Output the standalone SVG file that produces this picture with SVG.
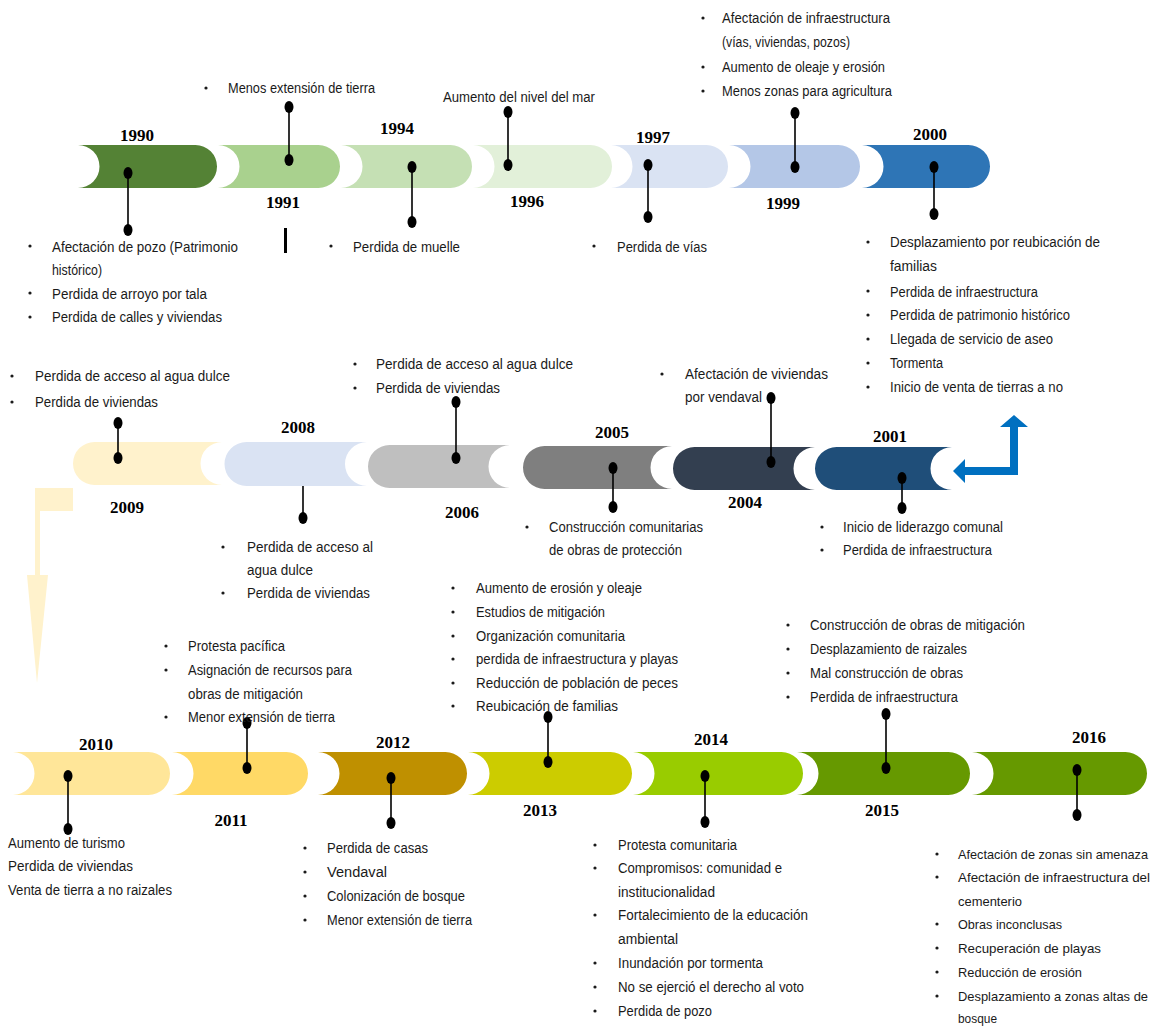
<svg xmlns="http://www.w3.org/2000/svg" width="1165" height="1027" viewBox="0 0 1165 1027">
<defs>
<style>
.t{font-family:"Liberation Sans","DejaVu Sans",sans-serif;font-size:14px;fill:#1a1a1a}
.s{font-size:13px}
.y{font-family:"Liberation Serif","DejaVu Serif",serif;font-size:17px;font-weight:bold;fill:#000;text-anchor:middle}
.b{fill:#1a1a1a}
.pl{stroke:#000;stroke-width:1.6;fill:none}
.d{fill:#000}
</style>
</defs>
<rect width="1165" height="1027" fill="#fff"/>

<g id="connectors">
<polygon points="35,488 73,488 73,511 40,511 40,575 48,575 37,683 27,575 35,575" fill="#FFF2CC"/>
<polygon points="953,471 965,459 965,467 1010,467 1010,427 1000,427 1014,415 1028,427 1018,427 1018,475 965,475 965,483" fill="#0070C0"/>
<rect x="284" y="228" width="3" height="25" fill="#000"/>
</g>

<!-- Row 1 -->
<g id="y1990">
<path d="M78,145 L195.5,145 A21.5,21.5 0 0 1 195.5,188 L78,188 A21.5,21.5 0 0 0 78,145 Z" fill="#548235"/>
<text class="y" x="137" y="141">1990</text>
<line class="pl" x1="128" y1="173" x2="128" y2="230"/><ellipse class="d" cx="128" cy="173" rx="4.5" ry="6"/><ellipse class="d" cx="128" cy="230" rx="4.5" ry="6"/>
<circle class="b" cx="30" cy="246" r="1.6"/><text class="t" x="52" y="252" textLength="186" lengthAdjust="spacingAndGlyphs">Afectación de pozo (Patrimonio</text>
<text class="t" x="52" y="275" textLength="50" lengthAdjust="spacingAndGlyphs">histórico)</text>
<circle class="b" cx="30" cy="293" r="1.6"/><text class="t" x="52" y="299" textLength="155" lengthAdjust="spacingAndGlyphs">Perdida de arroyo por tala</text>
<circle class="b" cx="30" cy="317" r="1.6"/><text class="t" x="52" y="322" textLength="170" lengthAdjust="spacingAndGlyphs">Perdida de calles y viviendas</text>
</g>
<g id="y1991">
<path d="M218,145 L318.5,145 A21.5,21.5 0 0 1 318.5,188 L218,188 A21.5,21.5 0 0 0 218,145 Z" fill="#A9D18E"/>
<text class="y" x="283" y="208">1991</text>
<line class="pl" x1="289" y1="107" x2="289" y2="160"/><ellipse class="d" cx="289" cy="107" rx="4.5" ry="6"/><ellipse class="d" cx="289" cy="160" rx="4.5" ry="6"/>
<circle class="b" cx="206" cy="88" r="1.6"/><text class="t" x="228" y="93" textLength="147" lengthAdjust="spacingAndGlyphs">Menos extensión de tierra</text>
</g>
<g id="y1994">
<path d="M341,145 L450.5,145 A21.5,21.5 0 0 1 450.5,188 L341,188 A21.5,21.5 0 0 0 341,145 Z" fill="#C5E0B4"/>
<text class="y" x="397" y="134">1994</text>
<line class="pl" x1="412" y1="167" x2="412" y2="222"/><ellipse class="d" cx="412" cy="167" rx="4.5" ry="6"/><ellipse class="d" cx="412" cy="222" rx="4.5" ry="6"/>
<circle class="b" cx="331" cy="246" r="1.6"/><text class="t" x="353" y="252" textLength="107" lengthAdjust="spacingAndGlyphs">Perdida de muelle</text>
</g>
<g id="y1996">
<path d="M473,145 L590.5,145 A21.5,21.5 0 0 1 590.5,188 L473,188 A21.5,21.5 0 0 0 473,145 Z" fill="#E2F0D9"/>
<text class="y" x="527" y="207">1996</text>
<line class="pl" x1="508" y1="112" x2="508" y2="165"/><ellipse class="d" cx="508" cy="112" rx="4.5" ry="6"/><ellipse class="d" cx="508" cy="165" rx="4.5" ry="6"/>
<text class="t" x="443" y="102" textLength="152" lengthAdjust="spacingAndGlyphs">Aumento del nivel del mar</text>
</g>
<g id="y1997">
<path d="M611,145 L706.5,145 A21.5,21.5 0 0 1 706.5,188 L611,188 A21.5,21.5 0 0 0 611,145 Z" fill="#DAE3F3"/>
<text class="y" x="653" y="143">1997</text>
<line class="pl" x1="648" y1="165" x2="648" y2="217"/><ellipse class="d" cx="648" cy="165" rx="4.5" ry="6"/><ellipse class="d" cx="648" cy="217" rx="4.5" ry="6"/>
<circle class="b" cx="594" cy="246" r="1.6"/><text class="t" x="617" y="252" textLength="90" lengthAdjust="spacingAndGlyphs">Perdida de vías</text>
</g>
<g id="y1999">
<path d="M729,145 L838.5,145 A21.5,21.5 0 0 1 838.5,188 L729,188 A21.5,21.5 0 0 0 729,145 Z" fill="#B4C7E7"/>
<text class="y" x="783" y="209">1999</text>
<line class="pl" x1="795" y1="113" x2="795" y2="167"/><ellipse class="d" cx="795" cy="113" rx="4.5" ry="6"/><ellipse class="d" cx="795" cy="167" rx="4.5" ry="6"/>
<circle class="b" cx="703" cy="18" r="1.6"/><text class="t" x="722" y="23" textLength="168" lengthAdjust="spacingAndGlyphs">Afectación de infraestructura</text>
<text class="t" x="722" y="47" textLength="128" lengthAdjust="spacingAndGlyphs">(vías, viviendas, pozos)</text>
<circle class="b" cx="703" cy="67" r="1.6"/><text class="t" x="722" y="72" textLength="163" lengthAdjust="spacingAndGlyphs">Aumento de oleaje y erosión</text>
<circle class="b" cx="703" cy="91" r="1.6"/><text class="t" x="722" y="96" textLength="170" lengthAdjust="spacingAndGlyphs">Menos zonas para agricultura</text>
</g>
<g id="y2000">
<path d="M862,145 L968.5,145 A21.5,21.5 0 0 1 968.5,188 L862,188 A21.5,21.5 0 0 0 862,145 Z" fill="#2E75B6"/>
<text class="y" x="930" y="140">2000</text>
<line class="pl" x1="934" y1="167" x2="934" y2="214"/><ellipse class="d" cx="934" cy="167" rx="4.5" ry="6"/><ellipse class="d" cx="934" cy="214" rx="4.5" ry="6"/>
<circle class="b" cx="868" cy="242" r="1.6"/><text class="t" x="890" y="247" textLength="210" lengthAdjust="spacingAndGlyphs">Desplazamiento por reubicación de</text>
<text class="t" x="890" y="271" textLength="47" lengthAdjust="spacingAndGlyphs">familias</text>
<circle class="b" cx="868" cy="291" r="1.6"/><text class="t" x="890" y="297" textLength="148" lengthAdjust="spacingAndGlyphs">Perdida de infraestructura</text>
<circle class="b" cx="868" cy="315" r="1.6"/><text class="t" x="890" y="320" textLength="180" lengthAdjust="spacingAndGlyphs">Perdida de patrimonio histórico</text>
<circle class="b" cx="868" cy="339" r="1.6"/><text class="t" x="890" y="344" textLength="163" lengthAdjust="spacingAndGlyphs">Llegada de servicio de aseo</text>
<circle class="b" cx="868" cy="363" r="1.6"/><text class="t" x="890" y="368" textLength="53" lengthAdjust="spacingAndGlyphs">Tormenta</text>
<circle class="b" cx="868" cy="387" r="1.6"/><text class="t" x="890" y="392" textLength="173" lengthAdjust="spacingAndGlyphs">Inicio de venta de tierras a no</text>
</g>

<!-- Row 2 -->
<g id="y2001">
<path d="M836.5,447 L952,447 A21.5,21.5 0 0 0 952,490 L836.5,490 A21.5,21.5 0 0 1 836.5,447 Z" fill="#1F4E79"/>
<text class="y" x="890" y="442">2001</text>
<line class="pl" x1="902" y1="478" x2="902" y2="508"/><ellipse class="d" cx="902" cy="478" rx="4.5" ry="6"/><ellipse class="d" cx="902" cy="508" rx="4.5" ry="6"/>
<circle class="b" cx="822" cy="527" r="1.6"/><text class="t" x="843" y="532" textLength="160" lengthAdjust="spacingAndGlyphs">Inicio de liderazgo comunal</text>
<circle class="b" cx="822" cy="550" r="1.6"/><text class="t" x="843" y="555" textLength="149" lengthAdjust="spacingAndGlyphs">Perdida de infraestructura</text>
</g>
<g id="y2004">
<path d="M694.5,447 L815,447 A21.5,21.5 0 0 0 815,490 L694.5,490 A21.5,21.5 0 0 1 694.5,447 Z" fill="#333F50"/>
<text class="y" x="745" y="508">2004</text>
<line class="pl" x1="771" y1="398" x2="771" y2="462"/><ellipse class="d" cx="771" cy="398" rx="4.5" ry="6"/><ellipse class="d" cx="771" cy="462" rx="4.5" ry="6"/>
<circle class="b" cx="662" cy="374" r="1.6"/><text class="t" x="685" y="379" textLength="143" lengthAdjust="spacingAndGlyphs">Afectación de viviendas</text>
<text class="t" x="685" y="402" textLength="77" lengthAdjust="spacingAndGlyphs">por vendaval</text>
</g>
<g id="y2005">
<path d="M544.5,446 L672,446 A21.5,21.5 0 0 0 672,489 L544.5,489 A21.5,21.5 0 0 1 544.5,446 Z" fill="#7F7F7F"/>
<text class="y" x="612" y="438">2005</text>
<line class="pl" x1="613" y1="468" x2="613" y2="507"/><ellipse class="d" cx="613" cy="468" rx="4.5" ry="6"/><ellipse class="d" cx="613" cy="507" rx="4.5" ry="6"/>
<circle class="b" cx="527" cy="527" r="1.6"/><text class="t" x="549" y="532" textLength="154" lengthAdjust="spacingAndGlyphs">Construcción comunitarias</text>
<text class="t" x="549" y="555" textLength="133" lengthAdjust="spacingAndGlyphs">de obras de protección</text>
</g>
<g id="y2006">
<path d="M389.5,445 L510,445 A21.5,21.5 0 0 0 510,488 L389.5,488 A21.5,21.5 0 0 1 389.5,445 Z" fill="#BFBFBF"/>
<text class="y" x="462" y="518">2006</text>
<line class="pl" x1="456" y1="402" x2="456" y2="458"/><ellipse class="d" cx="456" cy="402" rx="4.5" ry="6"/><ellipse class="d" cx="456" cy="458" rx="4.5" ry="6"/>
<circle class="b" cx="355" cy="364" r="1.6"/><text class="t" x="376" y="369" textLength="197" lengthAdjust="spacingAndGlyphs">Perdida de acceso al agua dulce</text>
<circle class="b" cx="355" cy="388" r="1.6"/><text class="t" x="376" y="393" textLength="124" lengthAdjust="spacingAndGlyphs">Perdida de viviendas</text>
</g>
<g id="y2008">
<path d="M246.5,442 L367,442 A22,22 0 0 0 367,486 L246.5,486 A22,22 0 0 1 246.5,442 Z" fill="#DAE3F3"/>
<text class="y" x="298" y="433">2008</text>
<line class="pl" x1="303" y1="486" x2="303" y2="518"/><ellipse class="d" cx="303" cy="518" rx="4.5" ry="6"/>
<circle class="b" cx="223" cy="547" r="1.6"/><text class="t" x="247" y="552" textLength="126" lengthAdjust="spacingAndGlyphs">Perdida de acceso al</text>
<text class="t" x="247" y="575" textLength="66" lengthAdjust="spacingAndGlyphs">agua dulce</text>
<circle class="b" cx="223" cy="593" r="1.6"/><text class="t" x="247" y="598" textLength="123" lengthAdjust="spacingAndGlyphs">Perdida de viviendas</text>
</g>
<g id="y2009">
<path d="M94.5,442 L222,442 A21.5,21.5 0 0 0 222,485 L94.5,485 A21.5,21.5 0 0 1 94.5,442 Z" fill="#FFF2CC"/>
<text class="y" x="127" y="513">2009</text>
<line class="pl" x1="118" y1="423" x2="118" y2="458"/><ellipse class="d" cx="118" cy="423" rx="4.5" ry="6"/><ellipse class="d" cx="118" cy="458" rx="4.5" ry="6"/>
<circle class="b" cx="12" cy="376" r="1.6"/><text class="t" x="35" y="381" textLength="195" lengthAdjust="spacingAndGlyphs">Perdida de acceso al agua dulce</text>
<circle class="b" cx="12" cy="402" r="1.6"/><text class="t" x="35" y="407" textLength="123" lengthAdjust="spacingAndGlyphs">Perdida de viviendas</text>
</g>

<!-- Row 3 -->
<g id="y2010">
<path d="M13,752 L148.5,752 A21.5,21.5 0 0 1 148.5,795 L13,795 A21.5,21.5 0 0 0 13,752 Z" fill="#FFE699"/>
<text class="y" x="96" y="750">2010</text>
<line class="pl" x1="68" y1="776" x2="68" y2="829"/><ellipse class="d" cx="68" cy="776" rx="4.5" ry="6"/><ellipse class="d" cx="68" cy="829" rx="4.5" ry="6"/>
<text class="t" x="8" y="848" textLength="117" lengthAdjust="spacingAndGlyphs">Aumento de turismo</text>
<text class="t" x="8" y="871" textLength="125" lengthAdjust="spacingAndGlyphs">Perdida de viviendas</text>
<text class="t" x="8" y="895" textLength="164" lengthAdjust="spacingAndGlyphs">Venta de tierra a no raizales</text>
</g>
<g id="y2011">
<path d="M172,752 L286.5,752 A21.5,21.5 0 0 1 286.5,795 L172,795 A21.5,21.5 0 0 0 172,752 Z" fill="#FFD966"/>
<text class="y" x="231" y="826">2011</text>
<line class="pl" x1="247" y1="723" x2="247" y2="768"/><ellipse class="d" cx="247" cy="723" rx="4.5" ry="6"/><ellipse class="d" cx="247" cy="768" rx="4.5" ry="6"/>
<circle class="b" cx="166" cy="646" r="1.6"/><text class="t" x="188" y="651" textLength="97" lengthAdjust="spacingAndGlyphs">Protesta pacífica</text>
<circle class="b" cx="166" cy="670" r="1.6"/><text class="t" x="188" y="675" textLength="164" lengthAdjust="spacingAndGlyphs">Asignación de recursos para</text>
<text class="t" x="188" y="699" textLength="115" lengthAdjust="spacingAndGlyphs">obras de mitigación</text>
<circle class="b" cx="166" cy="717" r="1.6"/><text class="t" x="188" y="722" textLength="147" lengthAdjust="spacingAndGlyphs">Menor extensión de tierra</text>
</g>
<g id="y2012">
<path d="M318,752 L445.5,752 A21.5,21.5 0 0 1 445.5,795 L318,795 A21.5,21.5 0 0 0 318,752 Z" fill="#BF9000"/>
<text class="y" x="393" y="748">2012</text>
<line class="pl" x1="391" y1="778" x2="391" y2="823"/><ellipse class="d" cx="391" cy="778" rx="4.5" ry="6"/><ellipse class="d" cx="391" cy="823" rx="4.5" ry="6"/>
<circle class="b" cx="305" cy="848" r="1.6"/><text class="t" x="327" y="853" textLength="101" lengthAdjust="spacingAndGlyphs">Perdida de casas</text>
<circle class="b" cx="305" cy="872" r="1.6"/><text class="t" x="327" y="877" textLength="60" lengthAdjust="spacingAndGlyphs">Vendaval</text>
<circle class="b" cx="305" cy="896" r="1.6"/><text class="t" x="327" y="901" textLength="138" lengthAdjust="spacingAndGlyphs">Colonización de bosque</text>
<circle class="b" cx="305" cy="920" r="1.6"/><text class="t" x="327" y="925" textLength="145" lengthAdjust="spacingAndGlyphs">Menor extensión de tierra</text>
</g>
<g id="y2013">
<path d="M468,752 L610.5,752 A21.5,21.5 0 0 1 610.5,795 L468,795 A21.5,21.5 0 0 0 468,752 Z" fill="#CCCC00"/>
<text class="y" x="540" y="816">2013</text>
<line class="pl" x1="548" y1="717" x2="548" y2="762"/><ellipse class="d" cx="548" cy="717" rx="4.5" ry="6"/><ellipse class="d" cx="548" cy="762" rx="4.5" ry="6"/>
<circle class="b" cx="453" cy="588" r="1.6"/><text class="t" x="476" y="593" textLength="166" lengthAdjust="spacingAndGlyphs">Aumento de erosión y oleaje</text>
<circle class="b" cx="453" cy="612" r="1.6"/><text class="t" x="476" y="617" textLength="129" lengthAdjust="spacingAndGlyphs">Estudios de mitigación</text>
<circle class="b" cx="453" cy="636" r="1.6"/><text class="t" x="476" y="641" textLength="149" lengthAdjust="spacingAndGlyphs">Organización comunitaria</text>
<circle class="b" cx="453" cy="659" r="1.6"/><text class="t" x="476" y="664" textLength="202" lengthAdjust="spacingAndGlyphs">perdida de infraestructura y playas</text>
<circle class="b" cx="453" cy="683" r="1.6"/><text class="t" x="476" y="688" textLength="202" lengthAdjust="spacingAndGlyphs">Reducción de población de peces</text>
<circle class="b" cx="453" cy="706" r="1.6"/><text class="t" x="476" y="711" textLength="142" lengthAdjust="spacingAndGlyphs">Reubicación de familias</text>
</g>
<g id="y2014">
<path d="M633,752 L781.5,752 A21.5,21.5 0 0 1 781.5,795 L633,795 A21.5,21.5 0 0 0 633,752 Z" fill="#99CC00"/>
<text class="y" x="711" y="745">2014</text>
<line class="pl" x1="705" y1="776" x2="705" y2="822"/><ellipse class="d" cx="705" cy="776" rx="4.5" ry="6"/><ellipse class="d" cx="705" cy="822" rx="4.5" ry="6"/>
<circle class="b" cx="595" cy="845" r="1.6"/><text class="t" x="618" y="850" textLength="119" lengthAdjust="spacingAndGlyphs">Protesta comunitaria</text>
<circle class="b" cx="595" cy="868" r="1.6"/><text class="t" x="618" y="873" textLength="164" lengthAdjust="spacingAndGlyphs">Compromisos: comunidad e</text>
<text class="t" x="618" y="897" textLength="97" lengthAdjust="spacingAndGlyphs">institucionalidad</text>
<circle class="b" cx="595" cy="915" r="1.6"/><text class="t" x="618" y="920" textLength="190" lengthAdjust="spacingAndGlyphs">Fortalecimiento de la educación</text>
<text class="t" x="618" y="944" textLength="60" lengthAdjust="spacingAndGlyphs">ambiental</text>
<circle class="b" cx="595" cy="963" r="1.6"/><text class="t" x="618" y="968" textLength="145" lengthAdjust="spacingAndGlyphs">Inundación por tormenta</text>
<circle class="b" cx="595" cy="987" r="1.6"/><text class="t" x="618" y="992" textLength="186" lengthAdjust="spacingAndGlyphs">No se ejerció el derecho al voto</text>
<circle class="b" cx="595" cy="1011" r="1.6"/><text class="t" x="618" y="1016" textLength="94" lengthAdjust="spacingAndGlyphs">Perdida de pozo</text>
</g>
<g id="y2015">
<path d="M797,752 L948.5,752 A21.5,21.5 0 0 1 948.5,795 L797,795 A21.5,21.5 0 0 0 797,752 Z" fill="#669900"/>
<text class="y" x="882" y="816">2015</text>
<line class="pl" x1="886" y1="714" x2="886" y2="768"/><ellipse class="d" cx="886" cy="714" rx="4.5" ry="6"/><ellipse class="d" cx="886" cy="768" rx="4.5" ry="6"/>
<circle class="b" cx="788" cy="625" r="1.6"/><text class="t" x="810" y="630" textLength="215" lengthAdjust="spacingAndGlyphs">Construcción de obras de mitigación</text>
<circle class="b" cx="788" cy="649" r="1.6"/><text class="t" x="810" y="654" textLength="157" lengthAdjust="spacingAndGlyphs">Desplazamiento de raizales</text>
<circle class="b" cx="788" cy="673" r="1.6"/><text class="t" x="810" y="678" textLength="153" lengthAdjust="spacingAndGlyphs">Mal construcción de obras</text>
<circle class="b" cx="788" cy="697" r="1.6"/><text class="t" x="810" y="702" textLength="148" lengthAdjust="spacingAndGlyphs">Perdida de infraestructura</text>
</g>
<g id="y2016">
<path d="M972,752 L1125.5,752 A21.5,21.5 0 0 1 1125.5,795 L972,795 A21.5,21.5 0 0 0 972,752 Z" fill="#669900"/>
<text class="y" x="1089" y="743">2016</text>
<line class="pl" x1="1077" y1="770" x2="1077" y2="815"/><ellipse class="d" cx="1077" cy="770" rx="4.5" ry="6"/><ellipse class="d" cx="1077" cy="815" rx="4.5" ry="6"/>
<circle class="b" cx="937" cy="854" r="1.6"/><text class="t s" x="958" y="859" textLength="190" lengthAdjust="spacingAndGlyphs">Afectación de zonas sin amenaza</text>
<circle class="b" cx="937" cy="877" r="1.6"/><text class="t s" x="958" y="882" textLength="192" lengthAdjust="spacingAndGlyphs">Afectación de infraestructura del</text>
<text class="t s" x="958" y="906" textLength="64" lengthAdjust="spacingAndGlyphs">cementerio</text>
<circle class="b" cx="937" cy="924" r="1.6"/><text class="t s" x="958" y="929" textLength="104" lengthAdjust="spacingAndGlyphs">Obras inconclusas</text>
<circle class="b" cx="937" cy="948" r="1.6"/><text class="t s" x="958" y="953" textLength="143" lengthAdjust="spacingAndGlyphs">Recuperación de playas</text>
<circle class="b" cx="937" cy="972" r="1.6"/><text class="t s" x="958" y="977" textLength="124" lengthAdjust="spacingAndGlyphs">Reducción de erosión</text>
<circle class="b" cx="937" cy="996" r="1.6"/><text class="t s" x="958" y="1001" textLength="190" lengthAdjust="spacingAndGlyphs">Desplazamiento a zonas altas de</text>
<text class="t s" x="958" y="1023" textLength="39" lengthAdjust="spacingAndGlyphs">bosque</text>
</g>
</svg>
